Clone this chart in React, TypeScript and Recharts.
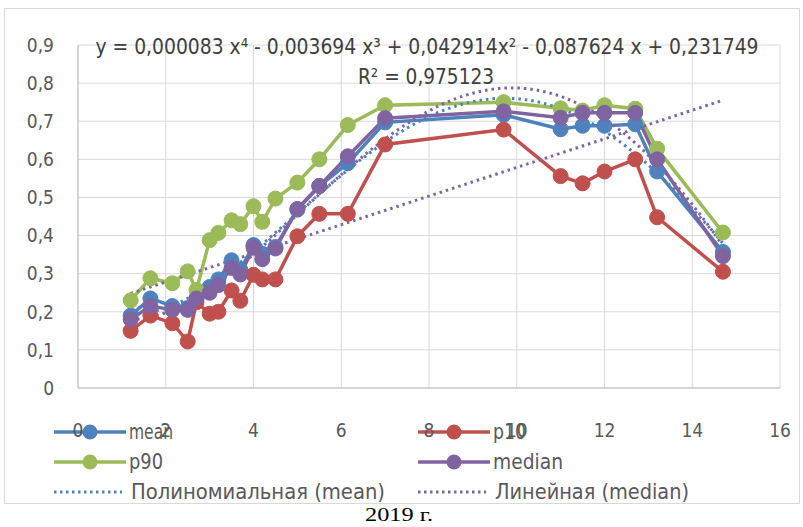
import React from 'react';
import { LineChart, Line, XAxis, YAxis, CartesianGrid, Customized } from 'recharts';

const xValues = [1.2, 1.65, 2.15, 2.5, 2.7, 3.0, 3.2, 3.5, 3.7, 4.0, 4.2, 4.5, 5.0, 5.5, 6.15, 7.0, 9.7, 11.0, 11.5, 12.0, 12.7, 13.2, 14.7];
const meanValues = [0.19, 0.235, 0.215, 0.21, 0.235, 0.265, 0.285, 0.335, 0.31, 0.375, 0.352, 0.37, 0.468, 0.53, 0.59, 0.697, 0.717, 0.679, 0.688, 0.688, 0.692, 0.568, 0.357];
const p10Values = [0.15, 0.19, 0.17, 0.122, 0.225, 0.195, 0.2, 0.256, 0.229, 0.297, 0.285, 0.285, 0.398, 0.457, 0.457, 0.639, 0.678, 0.556, 0.537, 0.568, 0.6, 0.448, 0.305];
const p90Values = [0.23, 0.288, 0.275, 0.306, 0.257, 0.388, 0.407, 0.44, 0.43, 0.477, 0.436, 0.497, 0.539, 0.6, 0.69, 0.742, 0.75, 0.734, 0.728, 0.742, 0.733, 0.628, 0.408];
const medianValues = [0.18, 0.215, 0.205, 0.205, 0.235, 0.25, 0.27, 0.315, 0.298, 0.368, 0.338, 0.366, 0.47, 0.53, 0.608, 0.708, 0.726, 0.709, 0.722, 0.722, 0.722, 0.6, 0.346];

const yTicks = [0, 0.1, 0.2, 0.3, 0.4, 0.5, 0.6, 0.7, 0.8, 0.9];
const xTicks = [0, 2, 4, 6, 8, 10, 12, 14, 16];

const equationText = 'y = 0,000083 x⁴ - 0,003694 x³ + 0,042914x² - 0,087624 x + 0,231749';
const r2Text = 'R² = 0,975123';
const captionText = '2019 г.';

const COLORS = { mean: '#4F81BD', p10: '#C0504D', p90: '#9BBB59', median: '#8064A2' };
const FONT = "'Liberation Sans Narrow', 'DejaVu Sans Condensed', 'Liberation Sans', sans-serif";

const table = xValues.map((x, i) => ({
  x,
  mean: meanValues[i],
  p10: p10Values[i],
  p90: p90Values[i],
  median: medianValues[i],
}));

function polyFit(xs: number[], ys: number[], deg: number): number[] {
  const n = deg + 1;
  const A: number[][] = Array.from({ length: n }, () => new Array(n + 1).fill(0));
  for (let k = 0; k < xs.length; k++) {
    for (let i = 0; i < n; i++) {
      for (let j = 0; j < n; j++) A[i][j] += Math.pow(xs[k], i + j);
      A[i][n] += ys[k] * Math.pow(xs[k], i);
    }
  }
  for (let c = 0; c < n; c++) {
    let p = c;
    for (let r = c + 1; r < n; r++) if (Math.abs(A[r][c]) > Math.abs(A[p][c])) p = r;
    [A[c], A[p]] = [A[p], A[c]];
    for (let r = 0; r < n; r++) {
      if (r === c) continue;
      const f = A[r][c] / A[c][c];
      for (let j = c; j <= n; j++) A[r][j] -= f * A[c][j];
    }
  }
  return A.map((row, i) => row[n] / row[i]);
}
const evalPoly = (c: number[], x: number) => c.reduce((s, a, i) => s + a * Math.pow(x, i), 0);

const xMin = xValues[0];
const xMax = xValues[xValues.length - 1];
const sampleXs = Array.from({ length: 136 }, (_, i) => +(xMin + (i * (xMax - xMin)) / 135).toFixed(3));

const meanCoef = polyFit(xValues, meanValues, 4);
const medianCoef = polyFit(xValues, medianValues, 4);
const medianLin = polyFit(xValues, medianValues, 1);

const meanPolyData = sampleXs.map((x) => ({ x, y: evalPoly(meanCoef, x) }));
const medianPolyData = sampleXs.map((x) => ({ x, y: evalPoly(medianCoef, x) }));
const medianLinData = [xMin, xMax].map((x) => ({ x, y: evalPoly(medianLin, x) }));

const fmt = (v: number) => String(Math.round(v * 10) / 10).replace('.', ',');

const legendItems = [
  { label: 'mean', color: COLORS.mean, col: 0, row: 0, dotted: false, w: 44 },
  { label: 'p10', color: COLORS.p10, col: 1, row: 0, dotted: false, w: 33 },
  { label: 'p90', color: COLORS.p90, col: 0, row: 1, dotted: false, w: 34 },
  { label: 'median', color: COLORS.median, col: 1, row: 1, dotted: false, w: 70 },
  { label: 'Полиномиальная (mean)', color: COLORS.mean, col: 0, row: 2, dotted: true, w: 254 },
  { label: 'Линейная (median)', color: COLORS.median, col: 1, row: 2, dotted: true, w: 194 },
];

const Overlay = () => (
  <g>
    <rect x={4.5} y={8.5} width={795} height={495} fill="none" stroke="#D9D9D9" strokeWidth={1} />
    <text x={427} y={54} textAnchor="middle" fontFamily={FONT} fontSize={22} fill="#404040" textLength={663} lengthAdjust="spacingAndGlyphs">
      {equationText}
    </text>
    <text x={426} y={84} textAnchor="middle" fontFamily={FONT} fontSize={22} fill="#404040" textLength={136} lengthAdjust="spacingAndGlyphs">
      {r2Text}
    </text>
    {legendItems.map((it) => {
      const lx = it.col === 0 ? 54 : 418;
      const cy = 432 + it.row * 30;
      return (
        <g key={it.label}>
          {it.dotted ? (
            <line x1={lx} y1={cy} x2={lx + 68} y2={cy} stroke={it.color} strokeWidth={3} strokeDasharray="2.5 3.5" />
          ) : (
            <g>
              <line x1={lx} y1={cy} x2={lx + 72} y2={cy} stroke={it.color} strokeWidth={3.5} />
              <circle cx={lx + 36} cy={cy} r={7.5} fill={it.color} />
            </g>
          )}
          <text x={lx + (it.dotted ? 77 : 75)} y={cy + 7} fontFamily={FONT} fontSize={21} fill="#595959" textLength={it.w} lengthAdjust="spacingAndGlyphs">
            {it.label}
          </text>
        </g>
      );
    })}
    <text x={399} y={521} textAnchor="middle" fontFamily="'Liberation Serif', 'DejaVu Serif', serif" fontSize={18} fill="#000" textLength={68} lengthAdjust="spacingAndGlyphs">
      {captionText}
    </text>
  </g>
);

export default function App() {
  const dotFor = (c: string) => ({ r: 7.5, fill: c, stroke: c, strokeWidth: 1 });
  return (
    <div style={{ position: 'absolute', left: 0, top: 0, width: 803, height: 527, background: '#fff' }}>
      <LineChart width={803} height={527} data={table} margin={{ top: 45, right: 23, bottom: 79, left: 18 }}>
        <CartesianGrid stroke="#D9D9D9" strokeWidth={1} />
        <XAxis
          dataKey="x"
          type="number"
          domain={[0, 16]}
          ticks={xTicks}
          allowDataOverflow
          height={60}
          tickSize={0}
          tickMargin={36}
          axisLine={{ stroke: '#BFBFBF' }}
          tick={{ fill: '#595959', fontSize: 19, fontFamily: FONT }}
        />
        <YAxis
          type="number"
          domain={[0, 0.9]}
          ticks={yTicks}
          width={60}
          tickSize={0}
          tickMargin={24}
          tickFormatter={fmt}
          axisLine={{ stroke: '#BFBFBF' }}
          tick={{ fill: '#595959', fontSize: 19, fontFamily: FONT }}
        />
        <Line dataKey="mean" stroke={COLORS.mean} strokeWidth={3.5} dot={dotFor(COLORS.mean)} isAnimationActive={false} />
        <Line dataKey="p10" stroke={COLORS.p10} strokeWidth={3.5} dot={dotFor(COLORS.p10)} isAnimationActive={false} />
        <Line dataKey="p90" stroke={COLORS.p90} strokeWidth={3.5} dot={dotFor(COLORS.p90)} isAnimationActive={false} />
        <Line dataKey="median" stroke={COLORS.median} strokeWidth={3.5} dot={dotFor(COLORS.median)} isAnimationActive={false} />
        <Line data={meanPolyData} dataKey="y" type="linear" stroke={COLORS.mean} strokeWidth={3} strokeDasharray="2.5 4" dot={false} isAnimationActive={false} />
        <Line data={medianPolyData} dataKey="y" type="linear" stroke={COLORS.median} strokeWidth={3} strokeDasharray="2.5 4" dot={false} isAnimationActive={false} />
        <Line data={medianLinData} dataKey="y" type="linear" stroke={COLORS.median} strokeWidth={3} strokeDasharray="2.5 4" dot={false} isAnimationActive={false} />
        <Customized component={Overlay} />
      </LineChart>
    </div>
  );
}
